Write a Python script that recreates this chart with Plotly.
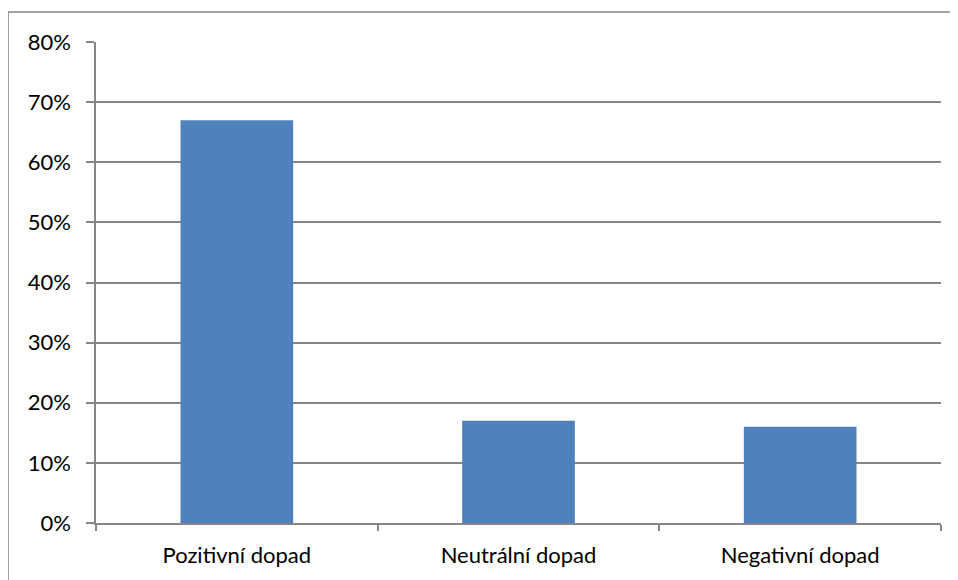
import plotly.graph_objects as go

categories = ["Pozitivní dopad", "Neutrální dopad", "Negativní dopad"]
values = [0.67, 0.17, 0.16]
y_ticks = [0, 0.1, 0.2, 0.3, 0.4, 0.5, 0.6, 0.7, 0.8]
y_tick_labels = ["0%", "10%", "20%", "30%", "40%", "50%", "60%", "70%", "80%"]

GRAY = "#868686"
FONT = dict(family="Lato, Open Sans, sans-serif", size=22, color="#000000")

fig = go.Figure(go.Bar(x=categories, y=values, marker=dict(color="#4F81BD", line=dict(width=0)), width=0.4))

fig.update_layout(
    width=958, height=580,
    margin=dict(l=88, r=25, t=34, b=65),
    paper_bgcolor="white", plot_bgcolor="white",
    font=FONT, showlegend=False, bargap=0.6,
)
fig.update_yaxes(
    range=[0, 0.8], tickvals=y_ticks, ticktext=y_tick_labels,
    showgrid=True, gridcolor=GRAY, gridwidth=1.5,
    showline=True, linecolor=GRAY, linewidth=1.5,
    ticks="outside", ticklen=8, tickcolor=GRAY, tickwidth=1.5,
    ticklabelstandoff=11, zeroline=False,
)
fig.update_xaxes(
    showline=True, linecolor=GRAY, linewidth=1.5,
    ticks="outside", tickson="boundaries", ticklen=6, tickcolor=GRAY, tickwidth=1.5,
    ticklabelstandoff=12, showgrid=False,
)
# outer chart border (top and left edges visible)
fig.add_shape(type="line", xref="paper", yref="paper", x0=-0.1041, x1=1.04, y0=1.0624, y1=1.0624,
              line=dict(color=GRAY, width=1.5))
fig.add_shape(type="line", xref="paper", yref="paper", x0=-0.1041, x1=-0.1041, y0=1.0624, y1=-0.15,
              line=dict(color=GRAY, width=1.5))

fig.write_html("out.html")
